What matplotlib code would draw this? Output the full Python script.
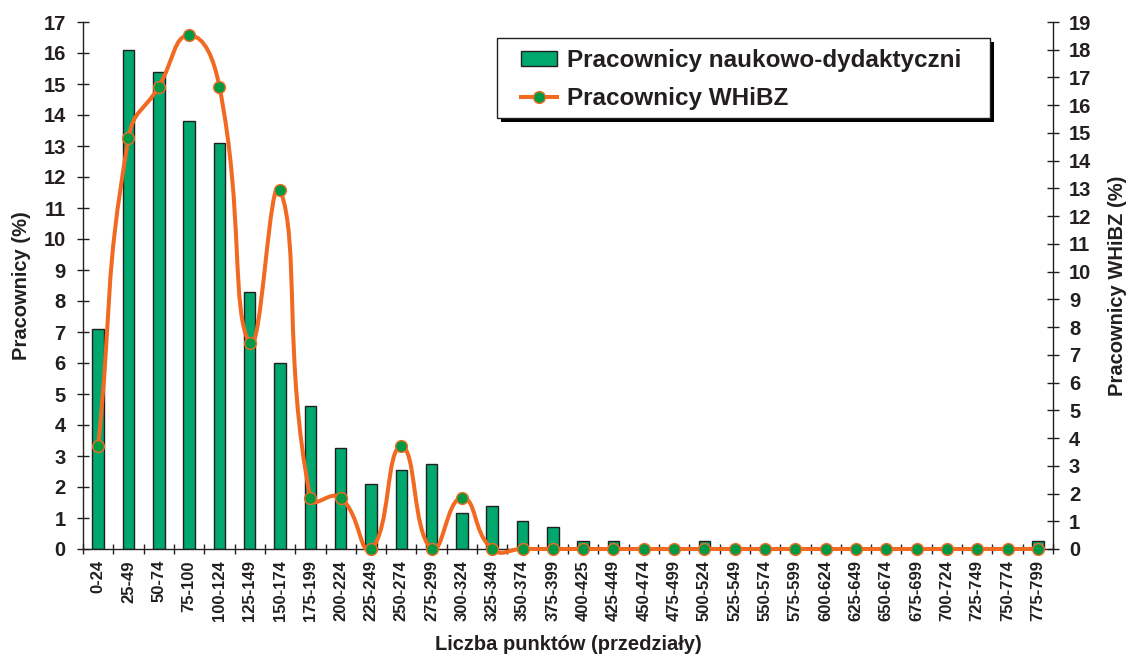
import matplotlib
matplotlib.use("Agg")
import matplotlib.pyplot as plt
from matplotlib.path import Path
from matplotlib.patches import PathPatch, Rectangle
from matplotlib.lines import Line2D
import numpy as np

categories = ["0-24", "25-49", "50-74", "75-100", "100-124", "125-149", "150-174",
              "175-199", "200-224", "225-249", "250-274", "275-299", "300-324",
              "325-349", "350-374", "375-399", "400-425", "425-449", "450-474",
              "475-499", "500-524", "525-549", "550-574", "575-599", "600-624",
              "625-649", "650-674", "675-699", "700-724", "725-749", "750-774",
              "775-799"]

naukowo = [7.1, 16.1, 15.4, 13.8, 13.1, 8.3, 6.0, 4.6, 3.25, 2.1, 2.55, 2.75, 1.15,
           1.4, 0.9, 0.7, 0.25, 0.25, 0, 0, 0.25, 0, 0, 0, 0, 0, 0, 0, 0, 0, 0, 0.25]

whibz = [3.70, 14.81, 16.67, 18.52, 16.67, 7.41, 12.96, 1.85, 1.85, 0, 3.70, 0, 1.85,
         0, 0, 0, 0, 0, 0, 0, 0, 0, 0, 0, 0, 0, 0, 0, 0, 0, 0, 0]

label_bar = "Pracownicy naukowo-dydaktyczni"
label_line = "Pracownicy WHiBZ"
xlabel = "Liczba punktów (przedziały)"
ylabel_left = "Pracownicy (%)"
ylabel_right = "Pracownicy WHiBZ (%)"

GREEN = "#00a86e"
DGREEN = "#009a44"
ORANGE = "#f26a21"
TXT = "#231f20"

plt.rcParams['font.family'] = ['Liberation Sans', 'DejaVu Sans']
plt.rcParams['font.weight'] = 'bold'

W, H = 1126, 654
fig = plt.figure(figsize=(W / 100, H / 100), dpi=100)
ax1 = fig.add_axes([83/W, 1-549/H, (1053-83)/W, (549-22)/H])
ax2 = ax1.twinx()

x = np.arange(len(categories))
ax1.bar(x, naukowo, width=0.38, color=GREEN, edgecolor=TXT, linewidth=1.0, zorder=2)
ax1.set_xlim(-0.5, len(categories) - 0.5)
ax1.set_ylim(0, 17)
ax2.set_ylim(0, 19)

# Smoothed line (Excel-like): Bezier segments whose control arms follow the
# neighbour direction, scaled by adjacent segment lengths in screen space.
pts = np.column_stack([x.astype(float), np.array(whibz, dtype=float)])
P = ax2.transData.transform(pts)
n = len(P)
s = 0.5
arm_in = np.zeros_like(P)
arm_out = np.zeros_like(P)
for i in range(n):
    pm = P[max(i - 1, 0)]
    pp = P[min(i + 1, n - 1)]
    d = pp - pm
    l_in = np.hypot(*(P[i] - pm))
    l_out = np.hypot(*(pp - P[i]))
    tot = l_in + l_out
    if tot == 0:
        continue
    arm_in[i] = d * (l_in / tot) * s
    arm_out[i] = d * (l_out / tot) * s
verts = [P[0]]
codes = [Path.MOVETO]
for i in range(n - 1):
    verts += [P[i] + arm_out[i], P[i + 1] - arm_in[i + 1], P[i + 1]]
    codes += [Path.CURVE4] * 3
verts_data = ax2.transData.inverted().transform(np.array(verts))
path = Path(verts_data, codes)
ax2.add_patch(PathPatch(path, facecolor='none', edgecolor=ORANGE, linewidth=2.9,
                        zorder=3, clip_on=False, capstyle='round', joinstyle='round'))
ax2.plot(pts[:, 0], pts[:, 1], linestyle='none', marker='o', markersize=8.5,
         markerfacecolor=DGREEN, markeredgecolor=ORANGE, markeredgewidth=1.0,
         zorder=4, clip_on=False)

# spines and ticks
for ax in (ax1, ax2):
    ax.spines['top'].set_visible(False)
    for sp in ax.spines.values():
        sp.set_color(TXT)
        sp.set_linewidth(1.0)
ax2.spines['left'].set_visible(False)
ax2.spines['bottom'].set_visible(False)
ax1.spines['right'].set_visible(False)

ax1.set_yticks(range(0, 18))
ax2.set_yticks(range(0, 20))
ax1.tick_params(axis='y', direction='inout', length=9, width=1, colors=TXT,
                labelsize=14.5, pad=8)
ax2.tick_params(axis='y', direction='inout', length=9, width=1, colors=TXT,
                labelsize=14.5, pad=7)

ax1.set_xticks(x)
ax1.set_xticklabels(categories, rotation=90, fontsize=12, fontweight='bold', color=TXT)
ax1.tick_params(axis='x', which='major', length=0, pad=8)
ax1.set_xticks(np.arange(-0.5, len(categories) + 0.5, 1), minor=True)
ax1.tick_params(axis='x', which='minor', direction='inout', length=7, width=1, color=TXT)

ax1.set_xlabel(xlabel, fontsize=14.5, fontweight='bold', color=TXT, labelpad=10)
ax1.set_ylabel(ylabel_left, fontsize=14.5, fontweight='bold', color=TXT, labelpad=9)
ax2.set_ylabel(ylabel_right, fontsize=14.5, fontweight='bold', color=TXT, labelpad=12)

# legend frame with solid shadow (drawn in figure pixels)
lx0, lx1, ly0, ly1 = 497, 990, 38, 118
fig.add_artist(Rectangle(((lx0 + 4) / W, 1 - (ly1 + 4) / H), (lx1 - lx0) / W,
                         (ly1 - ly0) / H, transform=fig.transFigure,
                         facecolor='black', edgecolor='none', zorder=5))
fig.add_artist(Rectangle((lx0 / W, 1 - ly1 / H), (lx1 - lx0) / W, (ly1 - ly0) / H,
                         transform=fig.transFigure, facecolor='white',
                         edgecolor=TXT, linewidth=1.0, zorder=5.5))

handles = [Rectangle((0, 0), 1, 1, facecolor=GREEN, edgecolor=TXT, linewidth=1.0),
           Line2D([], [], color=ORANGE, linewidth=2.9, marker='o', markersize=8.5,
                  markerfacecolor=DGREEN, markeredgecolor=ORANGE)]
leg = fig.legend(handles, [label_bar, label_line], loc='upper left',
                 bbox_to_anchor=(521 / W, 1 - 49 / H), fontsize=17.5, frameon=False,
                 handlelength=1.48, handleheight=0.6, handletextpad=0.4,
                 borderpad=0, labelspacing=0.62, borderaxespad=0)
leg.set_zorder(6)
for t in leg.get_texts():
    t.set_color(TXT)
    t.set_fontweight('bold')

fig.savefig("out.png", dpi=100)
